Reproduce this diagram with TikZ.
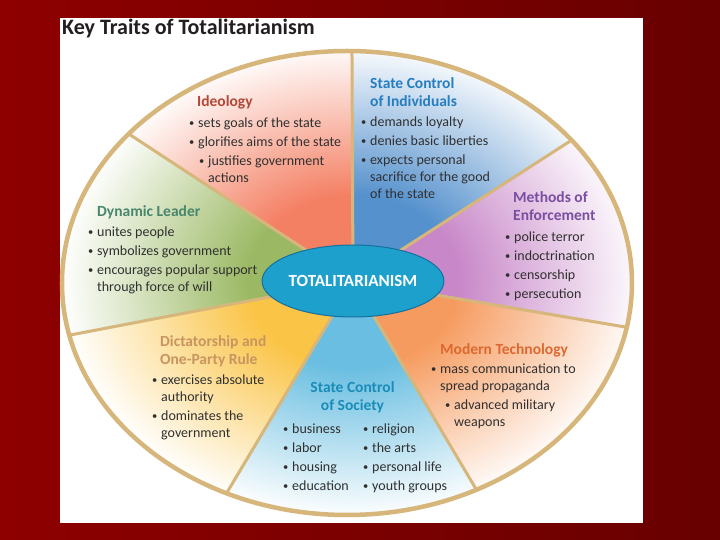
\documentclass[tikz,border=0pt]{standalone}
\usepackage{fontspec}
\setmainfont{Carlito}
\usepackage{graphicx}
\usetikzlibrary{positioning,shapes.geometric}

\definecolor{bgdark}{RGB}{104,0,0}
\definecolor{bglight}{RGB}{142,0,0}
\definecolor{ringtan}{RGB}{214,182,122}
\definecolor{hubblue}{RGB}{30,160,205}
\definecolor{hubedge}{RGB}{22,112,158}
\definecolor{bodytext}{RGB}{48,48,48}
\definecolor{titletext}{RGB}{35,31,32}
% wedge fills
\definecolor{ideofill}{RGB}{244,128,100}
\definecolor{indivfill}{RGB}{85,145,205}
\definecolor{methfill}{RGB}{200,135,200}
\definecolor{techfill}{RGB}{246,155,95}
\definecolor{socfill}{RGB}{105,190,225}
\definecolor{dictfill}{RGB}{250,196,70}
\definecolor{leadfill}{RGB}{155,185,100}
% heading colours
\definecolor{ideohd}{RGB}{178,72,55}
\definecolor{indivhd}{RGB}{38,125,192}
\definecolor{methhd}{RGB}{122,78,160}
\definecolor{techhd}{RGB}{222,105,48}
\definecolor{sochd}{RGB}{25,140,185}
\definecolor{dicthd}{RGB}{200,148,95}
\definecolor{leadhd}{RGB}{72,135,110}

\colorlet{wedgecol}{white}
\pgfdeclareradialshading[wedgecol]{wedgefade}{\pgfpoint{0bp}{0bp}}{%
  color(0bp)=(wedgecol); color(9bp)=(wedgecol); color(25bp)=(white); color(50bp)=(white)}

\newcommand{\bl}{\makebox[9pt][l]{\raisebox{0.12ex}{\scalebox{0.75}{\textbullet}}}}
\newcommand{\hg}{\hspace*{9pt}}

\begin{document}
\begin{tikzpicture}[
  x=1pt, y=1pt,
  rim/.style={draw=ringtan, line width=4.5pt},
  spoke/.style={draw=ringtan, line width=3pt},
  hubnode/.style={ellipse, fill=hubblue, draw=hubedge, line width=1pt,
                  minimum width=156pt, minimum height=72pt, inner sep=0pt,
                  text=white, font=\fontsize{17}{19}\selectfont\bfseries},
  hd/.style={font=\fontsize{15.5}{18}\selectfont\bfseries, align=left,
             inner sep=0pt, anchor=north west, text depth=4pt},
  lst/.style={font=\fontsize{14}{17}\selectfont, text=bodytext, align=left,
              inner sep=0pt, anchor=north west}
]

% ---------------- page, panel, title ----------------
\useasboundingbox (-347,-257) rectangle (373,283);
\shade[left color=bglight, right color=bgdark] (-347,-257) rectangle (373,283);
\fill[white] (-287,265) rectangle (296,-240);
\node[anchor=north west, inner sep=0pt, text=titletext,
      font=\fontsize{22}{24}\selectfont\bfseries] (title) at (-285,264)
  {Key Traits of Totalitarianism};

% ---------------- wedges ----------------
\coordinate (hub) at (6,2);
\foreach \from/\to/\col in {89/140/ideofill, 140/193/leadfill, 193/245/dictfill,
    245/297/socfill, 297/349/techfill, -11/38/methfill, 38/89/indivfill} {
  \colorlet{wedgecol}{\col}
  \begin{scope}
    \clip (hub) -- (\from:285 and 232)
      arc[start angle=\from, end angle=\to, x radius=285, y radius=232] -- cycle;
    \shade[shading=wedgefade] (hub) ellipse[x radius=292, y radius=238];
  \end{scope}
}
\foreach \t in {89,140,193,245,297,349,38}
  \draw[spoke] (hub) -- (\t:285 and 232);
\draw[rim] (0,0) ellipse[x radius=285, y radius=232];

\node[hubnode] (hubN) at (hub) {TOTALITARIANISM};

% ---------------- texts, one block per wedge ----------------
\node[hd, text=ideohd] (ideoH) at (-150,188) {Ideology};
\node[lst] (ideoL) at ([shift={(-8,-7)}]ideoH.south west)
  {\bl sets goals of the state\\[2pt]
   \bl glorifies aims of the state\\[2pt]
   \hspace*{10pt}\bl justifies government\\
   \hspace*{10pt}\hg actions};

\node[hd, text=indivhd] (indivH) at (23,206) {State Control\\of Individuals};
\node[lst] (indivL) at ([shift={(-9,-6)}]indivH.south west)
  {\bl demands loyalty\\[2pt]
   \bl denies basic liberties\\[2pt]
   \bl expects personal\\
   \hg sacrifice for the good\\
   \hg of the state};

\node[hd, text=methhd] (methH) at (166,92) {Methods of\\Enforcement};
\node[lst] (methL) at ([shift={(-8,-7)}]methH.south west)
  {\bl police terror\\[2pt]
   \bl indoctrination\\[2pt]
   \bl censorship\\[2pt]
   \bl persecution};

\node[hd, text=techhd] (techH) at (93,-60) {Modern Technology};
\node[lst] (techL) at ([shift={(-9,-5)}]techH.south west)
  {\bl mass communication to\\
   \hg spread propaganda\\[2pt]
   \hspace*{14pt}\bl advanced military\\
   \hspace*{14pt}\hg weapons};

\node[hd, text=sochd, align=center, anchor=north] (socH) at (5.5,-98)
  {State Control\\of Society};
\node[lst] (socA) at ([shift={(-69.5,-9)}]socH.south)
  {\bl business\\[2pt] \bl labor\\[2pt] \bl housing\\[2pt] \bl education};
\node[lst] (socB) at ([shift={(10.5,-9)}]socH.south)
  {\bl religion\\[2pt] \bl the arts\\[2pt] \bl personal life\\[2pt] \bl youth groups};

\node[hd, text=dicthd] (dictH) at (-187,-52) {Dictatorship and\\One-Party Rule};
\node[lst] (dictL) at ([shift={(-8,-6)}]dictH.south west)
  {\bl exercises absolute\\
   \hg authority\\[2pt]
   \bl dominates the\\
   \hg government};

\node[hd, text=leadhd] (leadH) at (-250,78) {Dynamic Leader};
\node[lst] (leadL) at ([shift={(-9,-6)}]leadH.south west)
  {\bl unites people\\[2pt]
   \bl symbolizes government\\[2pt]
   \bl encourages popular support\\
   \hg through force of will};

\end{tikzpicture}
\end{document}
